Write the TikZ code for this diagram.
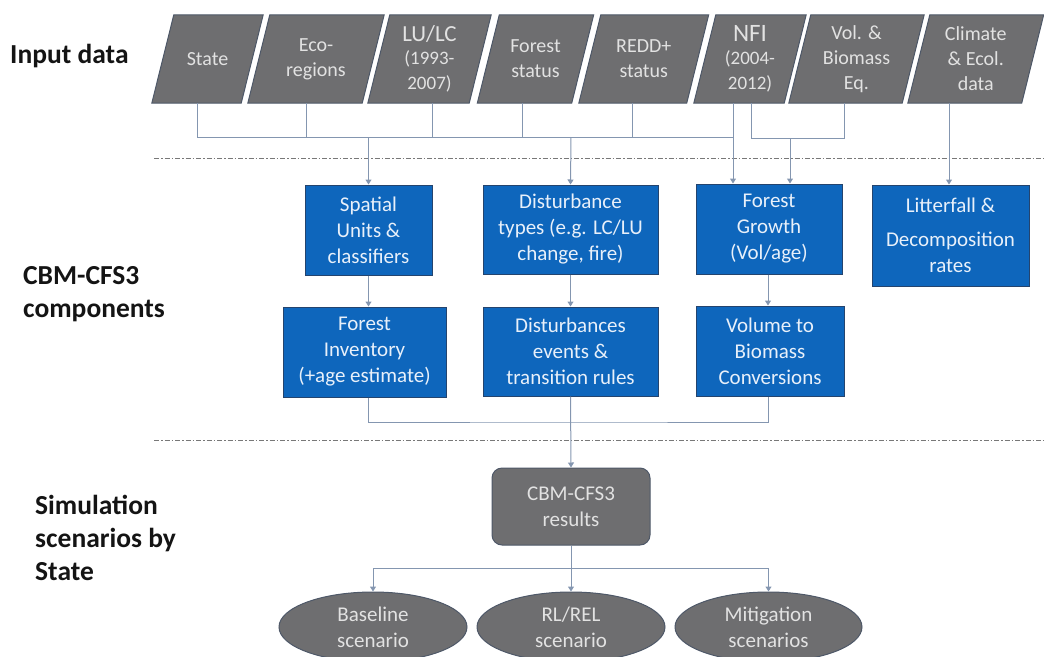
\documentclass[tikz,border=0pt]{standalone}
\usepackage{fontspec}
\setmainfont{Carlito}
\usetikzlibrary{shapes.geometric,arrows.meta}
\definecolor{shapegray}{RGB}{110,110,112}
\definecolor{shapeedge}{RGB}{78,88,104}
\definecolor{compblue}{RGB}{14,102,188}
\definecolor{compedge}{RGB}{36,68,110}
\definecolor{linkcol}{RGB}{132,150,176}
\definecolor{sepcol}{RGB}{120,120,120}
\definecolor{graytext}{RGB}{226,226,226}
\definecolor{bluetext}{RGB}{232,240,250}
\definecolor{labeltext}{RGB}{20,20,20}
\pgfdeclarelayer{back}
\pgfsetlayers{back,main}

\begin{document}
\begin{tikzpicture}[x=1pt,y=-1pt,
  every node/.style={inner sep=0pt, align=center},
  txt/.style={font=\fontsize{20}{25}\selectfont},
  btxt/.style={font=\fontsize{21}{26}\selectfont},
  section/.style={font=\fontsize{27.5}{33}\selectfont\bfseries, text=labeltext, align=left, anchor=west},
  datain/.style={txt, text=graytext, minimum height=88pt},
  comp/.style={btxt, text=bluetext, draw=compedge, fill=compblue, line width=1pt, minimum height=90pt},
  result/.style={btxt, text=graytext, draw=shapeedge, fill=shapegray, line width=1pt, rounded corners=10pt},
  scen/.style={ellipse, btxt, text=graytext, draw=shapeedge, fill=shapegray, line width=1pt, minimum height=70pt},
  link/.style={draw=linkcol, line width=1pt},
  arr/.style={link, -{Triangle[length=5pt,width=6pt]}},
  sep/.style={draw=sepcol, line width=1pt, dash pattern=on 5pt off 2pt on 1.5pt off 2pt},
]
\useasboundingbox (0,0) rectangle (1044,656);

% section titles
\node[section] (lab1) at (10,56) {Input data};
\node[section] (lab2) at (23,294) {CBM-CFS3\\components};
\node[section] (lab3) at (35,538) {Simulation\\scenarios by\\State};

% section separators
\draw[sep] (154,158) -- (1044,158);
\draw[sep] (154,440) -- (1044,440);

% input data (parallelograms)
\node[datain, minimum width=89pt]  (st)   at (207.5,59) {State};
\node[datain, minimum width=114pt] (eco)  at (316,59)   {Eco-\\regions};
\node[datain, minimum width=101pt] (lulc) at (429.5,59) {{\fontsize{23}{26}\selectfont LU/LC}\\[-2pt]{\fontsize{19}{22}\selectfont (1993-}\\{\fontsize{19}{22}\selectfont 2007)}};
\node[datain, minimum width=94pt]  (fst)  at (535.5,59) {Forest\\status};
\node[datain, minimum width=107.5pt] (redd) at (643.75,59) {REDD+\\status};
\node[datain, minimum width=90pt]  (nfi)  at (750,59)   {{\fontsize{25}{26}\selectfont NFI}\\[-2pt]{\fontsize{19}{22}\selectfont (2004-}\\{\fontsize{19}{22}\selectfont 2012)}};
\node[datain, minimum width=113pt] (vol)  at (856.5,59) {\fontsize{20}{27}\selectfont Vol. \&\\Biomass\\Eq.};
\node[datain, minimum width=113.5pt] (clim) at (975.75,59) {\fontsize{20}{26}\selectfont Climate\\\& Ecol.\\data};

\begin{pgfonlayer}{back}
  \foreach \n in {st,eco,lulc,fst,redd,nfi,vol,clim}
    \filldraw[fill=shapegray, draw=shapeedge, line width=1pt]
      ([xshift=11pt]\n.north west) -- ([xshift=11pt]\n.north east)
      -- ([xshift=-11pt]\n.south east) -- ([xshift=-11pt]\n.south west) -- cycle;
\end{pgfonlayer}

% CBM-CFS3 components
\node[comp, minimum width=127pt] (spa)  at (368.5,230) {Spatial\\Units \&\\classifiers};
\node[comp, minimum width=163pt] (inv)  at (364.5,352) {Forest\\Inventory\\(+age estimate)};
\node[comp, minimum width=175pt, minimum height=89pt] (dtyp) at (570.5,229.5) {Disturbance\\types (e.g. LC/LU\\change, fire)};
\node[comp, minimum width=175pt, minimum height=89pt] (dev)  at (570.5,351.5) {Disturbances\\events \&\\transition rules};
\node[comp, minimum width=146pt] (grow) at (769,229) {Forest\\Growth\\(Vol/age)};
\node[comp, minimum width=148pt] (vtb)  at (770,351) {Volume to\\Biomass\\Conversions};
\node[comp, minimum width=157pt, minimum height=101pt] (lit) at (950.5,235.5) {Litterfall \&\\[8pt]Decomposition\\rates};

% simulation results and scenarios
\node[result, minimum width=158pt, minimum height=77pt] (res) at (571,506.5) {CBM-CFS3\\results};
\node[scen, minimum width=188pt] (base) at (373,627)   {Baseline\\scenario};
\node[scen, minimum width=188pt] (rl)   at (571,627)   {RL/REL\\scenario};
\node[scen, minimum width=187pt] (mit)  at (768.5,627) {Mitigation\\scenarios};

% drop points under the input data
\coordinate (stD)   at ([xshift=-10.5pt]st.south);
\coordinate (ecoD)  at ([xshift=-10pt]eco.south);
\coordinate (lulcD) at ([xshift=2.5pt]lulc.south);
\coordinate (fstD)  at ([xshift=-13pt]fst.south);
\coordinate (reddD) at ([xshift=-11.75pt]redd.south);
\coordinate (nfiD)  at ([xshift=-17pt]nfi.south);
\coordinate (nfiE)  at ([xshift=1pt]nfi.south);
\coordinate (volD)  at ([xshift=-12.5pt]vol.south);
\coordinate (climD) at ([xshift=-26.75pt]clim.south);
\coordinate (bus)   at (571,137);
\coordinate (br2)   at (790,138);
\coordinate (br3)   at (569,422);
\coordinate (br4)   at (571,568);

% input bus
\draw[link] (stD) |- (nfiD |- bus);
\foreach \d in {ecoD,lulcD,fstD,reddD}
  \draw[link] (\d) -- (\d |- bus);
\draw[arr] (spa.north |- bus) -- (spa.north);
\draw[arr] (bus) -- (dtyp.north);
\draw[arr] (nfiD) -- (nfiD |- grow.north);
\draw[link] (nfiE) |- (volD |- br2) -- (volD);
\draw[arr] (br2) -- (br2 |- grow.north);
\draw[arr] (climD) -- (climD |- lit.north);

% within the components
\draw[arr] (spa.south) -- (spa.south |- inv.north);
\draw[arr] (dtyp.south) -- (dev.north);
\draw[arr] ([xshift=-1pt]grow.south) -- ([xshift=-1pt]grow.south |- vtb.north);
\draw[link] (spa.south |- inv.south) |- (br3) -| ([xshift=-1pt]grow.south |- vtb.south);
\draw[arr] (dev.south) -- (res.north);

% results to scenarios
\draw[link] (base.north |- br4) -- (mit.north |- br4);
\draw[link] (res.south) -- (br4);
\draw[arr] (base.north |- br4) -- (base.north);
\draw[arr] (br4) -- (rl.north);
\draw[arr] (mit.north |- br4) -- (mit.north);
\end{tikzpicture}
\end{document}
